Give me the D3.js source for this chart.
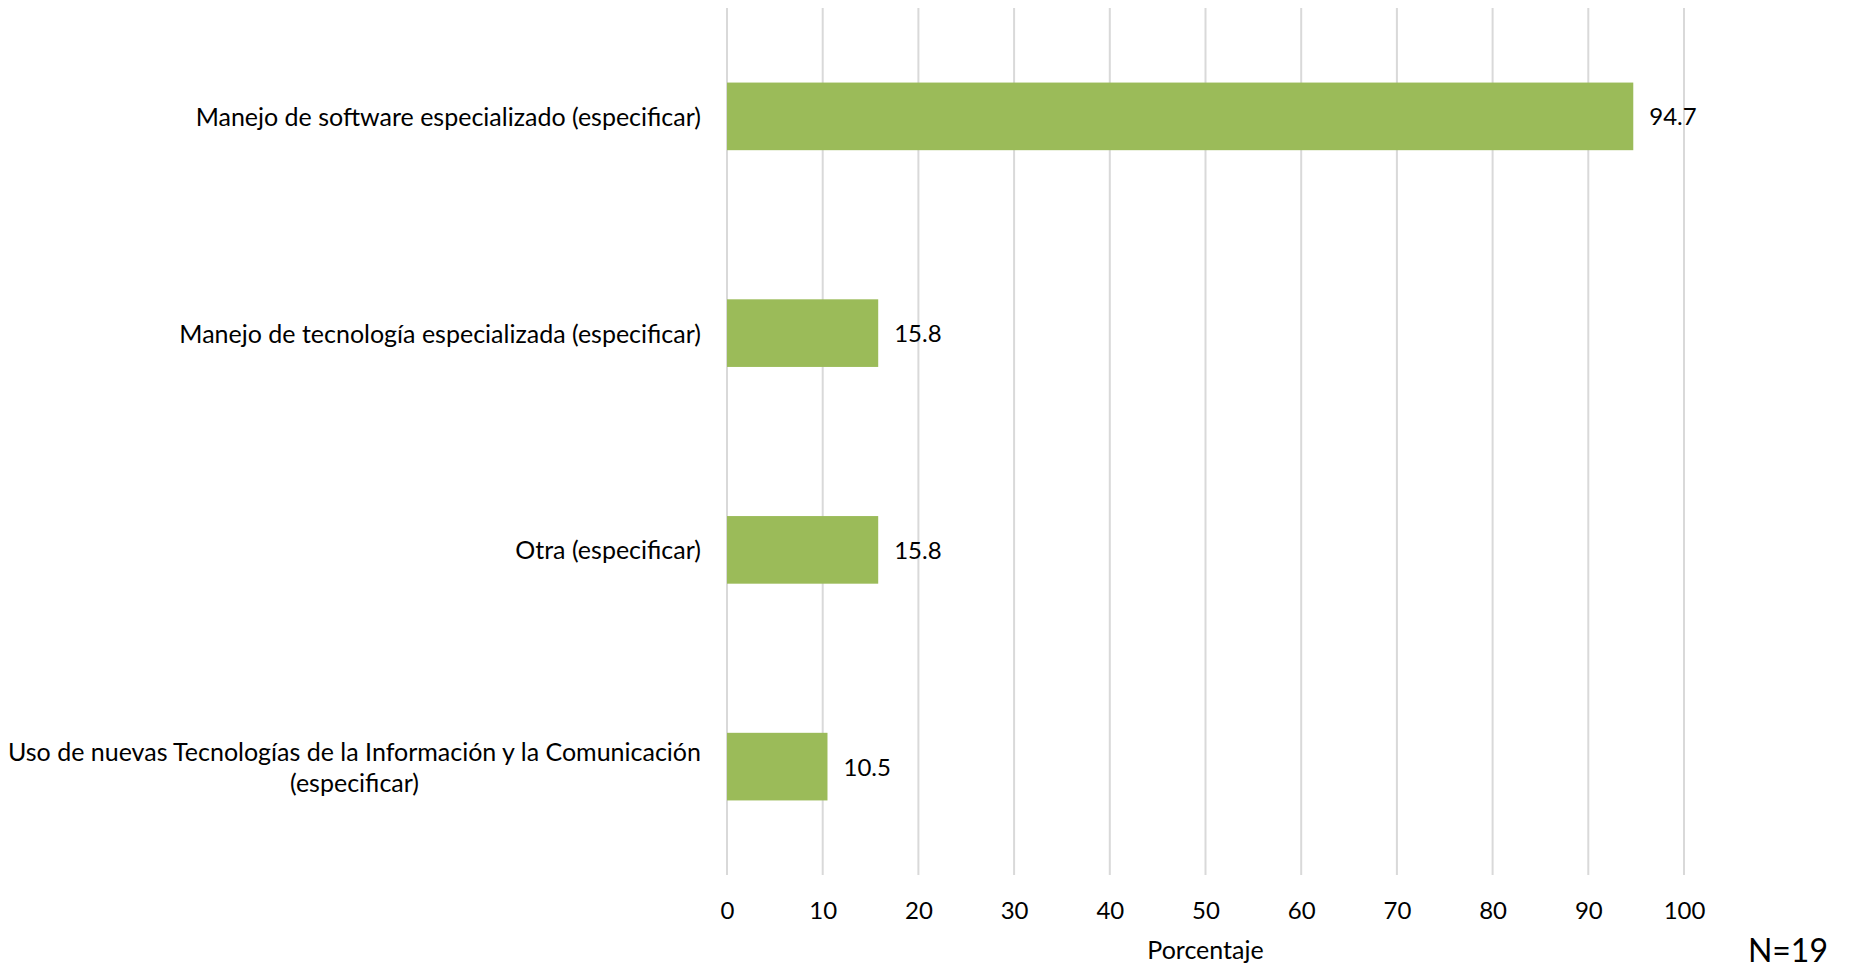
<!DOCTYPE html>
<html lang="es">
<head>
    <meta charset="UTF-8">
    <title>Porcentaje por tipo de capacitación</title>
    <style>
        body {
            margin: 0;
            padding: 0;
            background-color: #fff;
        }

        svg text {
            font-family: "Lato", "Open Sans", sans-serif;
            fill: #000;
        }

        .grid line {
            stroke: #d9d9d9;
            stroke-width: 2px;
        }

        .bar {
            fill: #9bbb59;
        }
    </style>
</head>
<body>

<svg id="chart" width="1850" height="969"></svg>

<script src="https://d3js.org/d3.v7.min.js"></script>
<script>
    // categories from top to bottom
    const categories = [
        "Manejo de software especializado (especificar)",
        "Manejo de tecnología especializada (especificar)",
        "Otra (especificar)",
        "Uso de nuevas Tecnologías de la Información y la Comunicación (especificar)"
    ];
    const values = [94.7, 15.8, 15.8, 10.5];
    const xTicks = [0, 10, 20, 30, 40, 50, 60, 70, 80, 90, 100];
    const xTitle = "Porcentaje";
    const note = "N=19";

    const margin = {top: 8, right: 166, bottom: 94, left: 727};
    const width = 1850 - margin.left - margin.right;
    const height = 969 - margin.top - margin.bottom;

    const svg = d3.select("#chart");
    const g = svg.append("g")
        .attr("transform", "translate(" + margin.left + "," + margin.top + ")");

    const x = d3.scaleLinear()
        .domain([0, 100])
        .range([0, width]);

    const y = d3.scaleBand()
        .domain(categories)
        .range([0, height])
        .paddingInner(0.688)
        .paddingOuter(0.344);

    // vertical gridlines
    g.append("g")
        .attr("class", "grid")
        .selectAll("line")
        .data(xTicks)
        .enter().append("line")
        .attr("x1", d => x(d))
        .attr("x2", d => x(d))
        .attr("y1", 0)
        .attr("y2", height);

    // x tick labels
    const xAxis = g.append("g")
        .attr("transform", "translate(0," + height + ")")
        .call(d3.axisBottom(x).tickValues(xTicks).tickSize(0).tickPadding(27));
    xAxis.select(".domain").remove();
    xAxis.selectAll("text")
        .attr("font-size", 24)
        .style("font-family", "Lato, 'Open Sans', sans-serif");

    // bars
    g.selectAll(".bar")
        .data(values)
        .enter().append("rect")
        .attr("class", "bar")
        .attr("x", x(0))
        .attr("y", (d, i) => y(categories[i]))
        .attr("width", d => x(d) - x(0))
        .attr("height", y.bandwidth());

    // value labels
    g.selectAll(".val")
        .data(values)
        .enter().append("text")
        .attr("class", "val")
        .attr("x", d => x(d) + 16)
        .attr("y", (d, i) => y(categories[i]) + y.bandwidth() / 2)
        .attr("dy", "0.38em")
        .attr("font-size", 24)
        .text(d => d.toFixed(1));

    // category labels, wrapped when too long
    const maxLabel = 700;
    const labelRight = -26;
    categories.forEach(function (c) {
        const cy = y(c) + y.bandwidth() / 2;
        const t = g.append("text")
            .attr("font-size", 25)
            .attr("text-anchor", "end");
        const words = c.split(" ");
        let lines = [];
        let line = [];
        const probe = t.append("tspan");
        words.forEach(function (w) {
            line.push(w);
            probe.text(line.join(" "));
            if (probe.node().getComputedTextLength() > maxLabel && line.length > 1) {
                line.pop();
                lines.push(line.join(" "));
                line = [w];
            }
        });
        lines.push(line.join(" "));
        probe.remove();

        const lh = 31;
        if (lines.length === 1) {
            t.append("tspan")
                .attr("x", labelRight)
                .attr("y", cy)
                .attr("dy", "0.38em")
                .text(lines[0]);
        } else {
            // measure widest line, centre the block
            let widest = 0;
            lines.forEach(function (l) {
                const tmp = t.append("tspan").text(l);
                widest = Math.max(widest, tmp.node().getComputedTextLength());
                tmp.remove();
            });
            t.attr("text-anchor", "middle");
            lines.forEach(function (l, k) {
                t.append("tspan")
                    .attr("x", labelRight - widest / 2)
                    .attr("y", cy + (k - (lines.length - 1) / 2) * lh)
                    .attr("dy", "0.38em")
                    .text(l);
            });
        }
    });

    // axis title
    g.append("text")
        .attr("x", width / 2)
        .attr("y", height + 84)
        .attr("text-anchor", "middle")
        .attr("font-size", 25)
        .text(xTitle);

    // sample size note
    svg.append("text")
        .attr("x", 1828)
        .attr("y", 962)
        .attr("text-anchor", "end")
        .attr("font-size", 32)
        .text(note);
</script>
</body>
</html>
